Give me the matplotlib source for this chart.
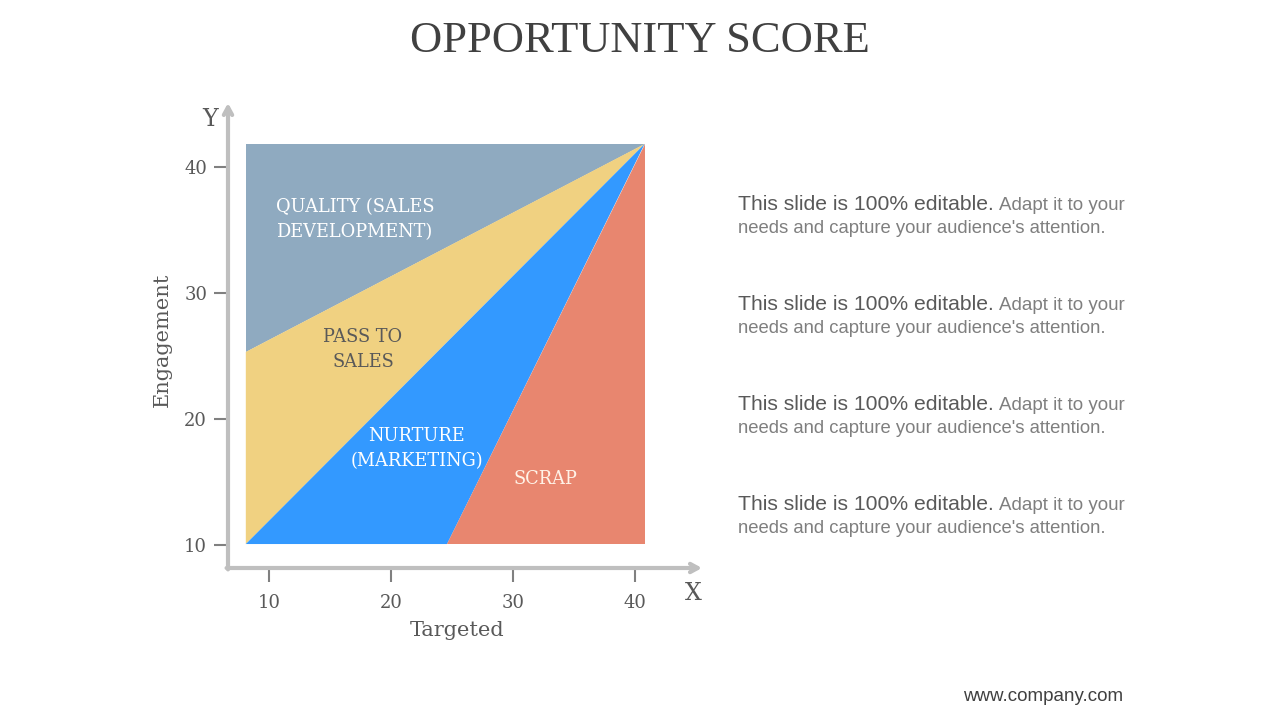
import matplotlib
matplotlib.use("Agg")
from matplotlib import pyplot as plt
from matplotlib.patches import Polygon

# data: score regions, corners in (targeted, engagement) units
x_lo, x_hi = 8.1, 40.8
y_lo, y_hi = 10.07, 41.8
quality_cut = 25.3   # where the quality / pass line meets the left edge
scrap_cut = 24.6     # where the scrap line meets the bottom edge

region_names = ["QUALITY (SALES\nDEVELOPMENT)", "PASS TO\nSALES", "NURTURE\n(MARKETING)", "SCRAP"]
region_colors = ["#8FAAC0", "#F0D181", "#3399FF", "#E8866F"]
region_pts = [
    [(x_lo, quality_cut), (x_lo, y_hi), (x_hi, y_hi)],
    [(x_lo, y_lo), (x_lo, quality_cut), (x_hi, y_hi)],
    [(x_lo, y_lo), (scrap_cut, y_lo), (x_hi, y_hi)],
    [(scrap_cut, y_lo), (x_hi, y_lo), (x_hi, y_hi)],
]
# label positions and looks
label_xy = [(10.6, 35.8), (17.7, 25.5), (22.1, 17.65), (32.7, 15.2)]
label_col = ["white", "#595959", "white", "#FFF3E8"]
label_ha = ["left", "center", "center", "center"]

xticks = [10, 20, 30, 40]
yticks = [10, 20, 30, 40]

notes = ["This slide is 100% editable."] * 4
notes_more = ["Adapt it to your"] * 4
notes_line2 = ["needs and capture your audience's attention."] * 4

W, H = 1280, 720
fig = plt.figure(figsize=(12.8, 7.2), dpi=100)
fig.patch.set_facecolor("white")

serif = "DejaVu Serif"
grey_axis = "#BFBFBF"

# axes placed so the corner sits where the drawn axis arrows meet
ax = fig.add_axes([228 / W, 1 - 568 / H, (702 - 228) / W, (568 - 103) / H])
ax.set_xlim(6.64, 45.5)
ax.set_ylim(8.17, 45.04)
ax.set_facecolor("none")

for pts, c in zip(region_pts, region_colors):
    ax.add_patch(Polygon(pts, closed=True, facecolor=c, edgecolor="none"))

for (lx, ly), name, col, ha in zip(label_xy, region_names, label_col, label_ha):
    ax.text(lx, ly, name, color=col, ha=ha, va="center", fontsize=12.8,
            family=serif, linespacing=1.55)

for s in ax.spines.values():
    s.set_visible(False)

arrow = dict(arrowstyle="->,head_length=0.55,head_width=0.3", color=grey_axis, lw=3,
             shrinkA=0, shrinkB=0)
ax.annotate("", xy=(1, 0), xytext=(-0.003, 0), xycoords="axes fraction", arrowprops=arrow)
ax.annotate("", xy=(0, 1), xytext=(0, -0.003), xycoords="axes fraction", arrowprops=arrow)

ax.set_xticks(xticks)
ax.set_yticks(yticks)
ax.tick_params(direction="out", length=10, width=1.5, color="#808080",
               labelsize=13, labelcolor="#595959")
ax.tick_params(axis="x", pad=9)
ax.tick_params(axis="y", pad=5)
for t in ax.get_xticklabels() + ax.get_yticklabels():
    t.set_family(serif)

fig.text(210 / W, 1 - 119 / H, "Y", ha="center", va="center", fontsize=17, color="#595959", family=serif)
fig.text(693 / W, 1 - 593 / H, "X", ha="center", va="center", fontsize=17, color="#595959", family=serif)
fig.text(457 / W, 1 - 630 / H, "Targeted", ha="center", va="center", fontsize=15, color="#595959", family=serif)
fig.text(162 / W, 1 - 340 / H, "Engagement", ha="center", va="center", rotation=90,
         fontsize=15, color="#595959", family=serif)

fig.text(640 / W, 1 - 52 / H, "OPPORTUNITY SCORE", ha="center", va="baseline",
         fontsize=32, color="#404040", family="Liberation Serif")

for i in range(4):
    base = 210 + 100 * i
    t1 = fig.text(738 / W, 1 - base / H, notes[i], ha="left", va="baseline",
                  fontsize=15.2, color="#595959", family="Liberation Sans")
    ax.annotate(notes_more[i], xy=(1, 0), xycoords=t1, xytext=(4, 0), textcoords="offset points",
                ha="left", va="bottom", fontsize=13.5, color="#7F7F7F", family="Liberation Sans")
    fig.text(738 / W, 1 - (base + 23) / H, notes_line2[i], ha="left", va="baseline",
             fontsize=13.3, color="#7F7F7F", family="Liberation Sans")

fig.text(1123 / W, 1 - 701 / H, "www.company.com", ha="right", va="baseline",
         fontsize=13.5, color="#404040", family="Liberation Sans")

fig.savefig("out.png", dpi=100)
